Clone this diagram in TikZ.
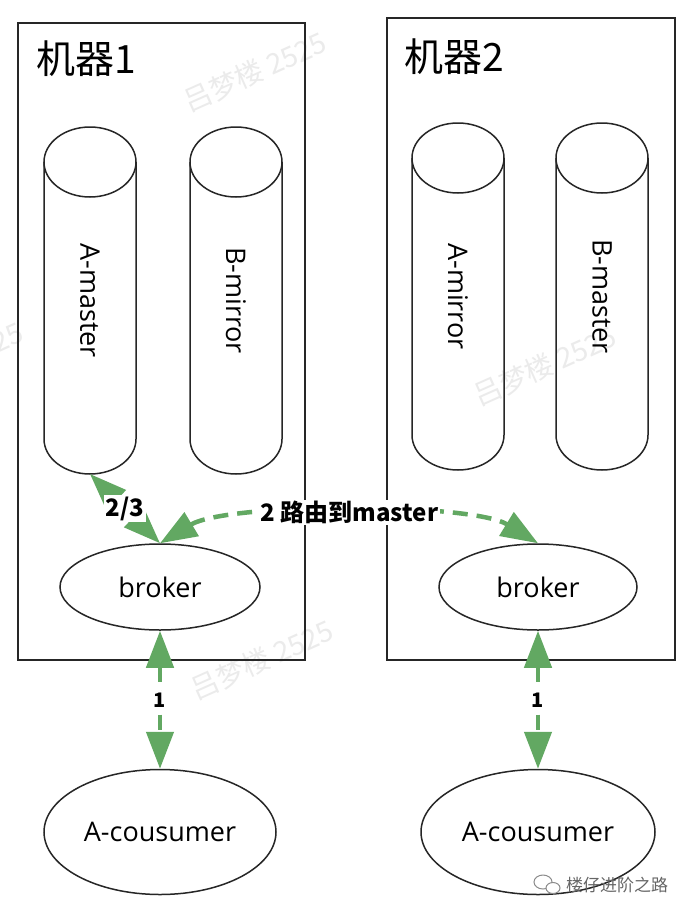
\documentclass[tikz,border=0pt]{standalone}
\usepackage{fontspec}
\setmainfont{Open Sans}
\newfontfamily\cjk{Noto Sans CJK SC}
\usetikzlibrary{arrows.meta,shapes.geometric}
\definecolor{arrowgreen}{RGB}{98,168,98}
\definecolor{linegray}{RGB}{38,38,38}
\tikzset{
  machine/.style={draw=linegray, line width=1.8pt},
  outline/.style={draw=linegray, line width=1.5pt},
  oval/.style={ellipse, outline, inner sep=0pt, font=\fontsize{27}{30}\selectfont},
  cyllabel/.style={rotate=-90, inner sep=0pt, font=\fontsize{27}{30}\selectfont},
  title/.style={anchor=west, inner sep=0pt, font=\cjk\fontsize{39}{42}\selectfont},
  flow/.style={draw=arrowgreen, line width=4.5pt, dash pattern=on 15pt off 9pt,
    {Triangle[length=37pt,width=27pt]}-{Triangle[length=37pt,width=27pt]}},
  flowlabel/.style={fill=white, inner sep=1.5pt, font=\cjk\bfseries\fontsize{24}{26}\selectfont},
  smalllabel/.style={fill=white, inner sep=1.5pt, font=\cjk\bfseries\fontsize{20}{22}\selectfont},
  watermark/.style={text=black!8, rotate=24, font=\cjk\fontsize{28}{30}\selectfont},
}
\newcommand\drawcyl[5]{%
  \draw[outline] (#2-46,#3+35) -- (#2-46,#4-35)
     arc[start angle=180, end angle=0, x radius=46, y radius=35] -- (#2+46,#3+35);
  \draw[outline] (#2,#3+35) ellipse[x radius=46, y radius=35];
  \coordinate (#1-bottom) at (#2,#4);
  \node[cyllabel] (#1) at (#2,{(#3+#4)/2}) {#5};
}
\begin{document}
\begin{tikzpicture}[x=1pt,y=-1pt]
\fill[white] (0,0) rectangle (690,916);
\useasboundingbox (0,0) rectangle (690,916);
% watermarks
\begin{scope}
\clip (0,0) rectangle (690,916);
\node[watermark] (wm1) at (255,72) {吕梦楼 2525};
\node[watermark] (wm2) at (545,366) {吕梦楼 2525};
\node[watermark] (wm3) at (262,660) {吕梦楼 2525};
\node[watermark] (wm4) at (-48,362) {吕梦楼 2525};
\end{scope}
% machines
\draw[machine] (18,23) rectangle (305,660);
\draw[machine] (387,18) rectangle (675,660);
\node[title] (t1) at (36,59) {机器1};
\node[title] (t2) at (404,57) {机器2};
% cylinders
\drawcyl{amaster}{90}{127}{474}{A-master}
\drawcyl{bmirror}{236}{127}{474}{B-mirror}
\drawcyl{amirror}{458}{123}{470}{A-mirror}
\drawcyl{bmaster}{602}{123}{470}{B-master}
% brokers and consumers
\node[oval, minimum width=200pt, minimum height=86pt] (broker1) at (160,587) {broker};
\node[oval, minimum width=198pt, minimum height=86pt] (broker2) at (538,587) {broker};
\node[oval, minimum width=232pt, minimum height=125pt] (cons1) at (160,832) {A-cousumer};
\node[oval, minimum width=234pt, minimum height=125pt] (cons2) at (538,832) {A-cousumer};
% flows
\draw[flow] (amaster-bottom) -- node[flowlabel] {2/3} (broker1.north);
\draw[flow] (broker1.north) .. controls +(68,-41) and +(-67,-41) .. node[flowlabel] {2 路由到master} (broker2.north);
\draw[flow] (broker1.south) -- node[smalllabel] {1} (cons1.north);
\draw[flow] (broker2.south) -- node[smalllabel] {1} (cons2.north);
% brand mark
\draw[black!45, line width=1pt, fill=white] (543,882) ellipse[x radius=9, y radius=7];
\draw[black!45, line width=1pt, fill=white] (553,888) ellipse[x radius=7, y radius=5.5];
\node[font=\cjk\fontsize{17}{18}\selectfont, text=black!60, inner sep=0pt] (brand) at (617,885) {楼仔进阶之路};
\end{tikzpicture}
\end{document}
